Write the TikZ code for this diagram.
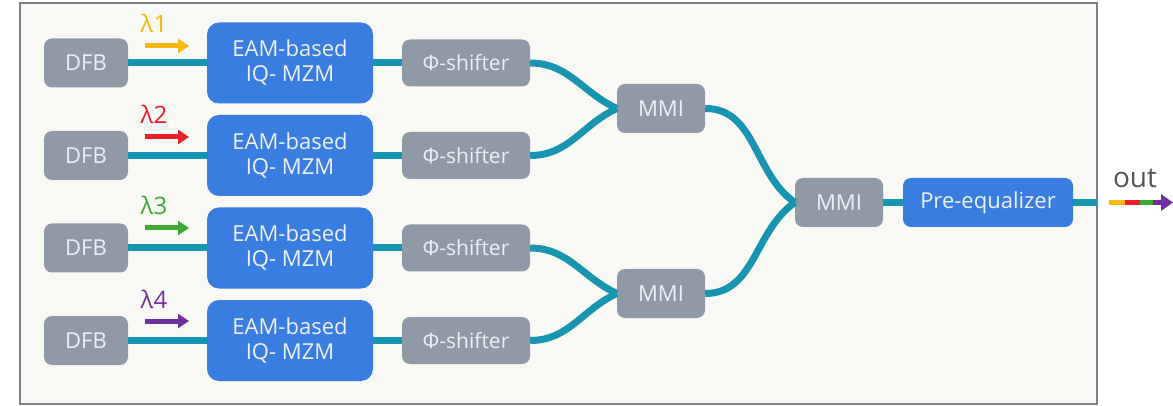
\documentclass[tikz,border=0pt]{standalone}
\usepackage{fontspec}
\setmainfont{Open Sans}
\usetikzlibrary{arrows.meta}
\definecolor{boxgray}{RGB}{143,154,166}
\definecolor{boxblue}{RGB}{58,125,224}
\definecolor{wg}{RGB}{23,148,176}
\definecolor{boxtext}{RGB}{236,240,246}
\definecolor{bgc}{RGB}{248,248,244}
\definecolor{framec}{RGB}{128,128,128}
\definecolor{ly}{RGB}{246,184,12}
\definecolor{lr}{RGB}{232,30,40}
\definecolor{lg}{RGB}{60,170,50}
\definecolor{lp}{RGB}{112,48,160}
\definecolor{outtext}{RGB}{85,85,85}
\tikzset{
  graybox/.style={draw=none, fill=boxgray, rounded corners=8pt, text=boxtext,
    font=\fontsize{22}{26}\selectfont, inner sep=0pt, align=center},
  bluebox/.style={draw=none, fill=boxblue, rounded corners=12pt, text=boxtext,
    font=\fontsize{22}{25}\selectfont, inner sep=0pt, align=center},
  guide/.style={draw=wg, line width=7pt},
  lamarrow/.style={line width=5pt, -{Triangle[length=11pt,width=14pt]}},
  lamtext/.style={font=\fontsize{24}{26}\selectfont, inner sep=0pt, anchor=base},
}
\begin{document}
\begin{tikzpicture}[x=1pt,y=-1pt]
\useasboundingbox (0,0) rectangle (1173,406);
\fill[white] (0,0) rectangle (1173,406);
\draw[fill=bgc, draw=framec, line width=1.5pt] (20,3) rectangle (1097,404);

% rows
\foreach \i/\y in {1/63,2/155.5,3/248,4/340.5}{
  \node[graybox, minimum width=84pt, minimum height=49pt] (dfb\i) at (86,\y) {DFB};
  \node[bluebox, minimum width=166pt, minimum height=81pt] (eam\i) at (290,\y) {EAM-based\\IQ- MZM};
  \node[graybox, font=\fontsize{21}{25}\selectfont, minimum width=128pt, minimum height=47pt] (phi\i) at (466,\y) {Φ-shifter};
}
\node[graybox, minimum width=88pt, minimum height=49pt] (mmiA) at (661,108.5) {MMI};
\node[graybox, minimum width=88pt, minimum height=49pt] (mmiB) at (661,293.5) {MMI};
\node[graybox, minimum width=88pt, minimum height=49pt] (mmiC) at (839,202.5) {MMI};
\node[bluebox, rounded corners=8pt, minimum width=170pt, minimum height=49pt] (pre) at (988,202.5) {Pre-equalizer};
\coordinate (edge) at (1097,202.5);

\foreach \i in {1,2,3,4}{
  \draw[guide] (dfb\i.east) -- (eam\i.west);
  \draw[guide] (eam\i.east) -- (phi\i.west);
}
\draw[guide] (phi1.east) to[out=0,in=155] (mmiA.west);
\draw[guide] (phi2.east) to[out=0,in=205] (mmiA.west);
\draw[guide] (phi3.east) to[out=0,in=155] (mmiB.west);
\draw[guide] (phi4.east) to[out=0,in=205] (mmiB.west);
\draw[guide] (mmiA.east) to[out=0,in=145] (mmiC.west);
\draw[guide] (mmiB.east) to[out=0,in=215] (mmiC.west);
\draw[guide] (mmiC.east) -- (pre.west);
\draw[guide] (pre.east) -- (edge);

% lambda arrows
\foreach \i/\y/\c in {1/46/ly,2/137/lr,3/228/lg,4/321/lp}{
  \coordinate (ls\i) at (145,\y);
  \coordinate (le\i) at (189,\y);
  \draw[lamarrow, draw=\c, fill=\c] (ls\i) -- (le\i);
  \node[lamtext, text=\c] (lt\i) at (154,\y-13) {λ\i};
}

% out arrow
\coordinate (o1) at (1109,202.5);
\coordinate (o2) at (1125,202.5);
\coordinate (o3) at (1140,202.5);
\coordinate (o4) at (1153,202.5);
\coordinate (o5) at (1173,202.5);
\draw[line width=5pt, draw=ly] (o1) -- (o2);
\draw[line width=5pt, draw=lr] (o2) -- (o3);
\draw[line width=5pt, draw=lg] (o3) -- (o4);
\draw[line width=5pt, draw=lp, -{Triangle[length=12pt,width=16pt]}] (o4) -- (o5);
\node[font=\fontsize{28}{32}\selectfont, text=outtext, inner sep=0pt, anchor=base] (outlbl) at (1135,188) {out};
\end{tikzpicture}
\end{document}
